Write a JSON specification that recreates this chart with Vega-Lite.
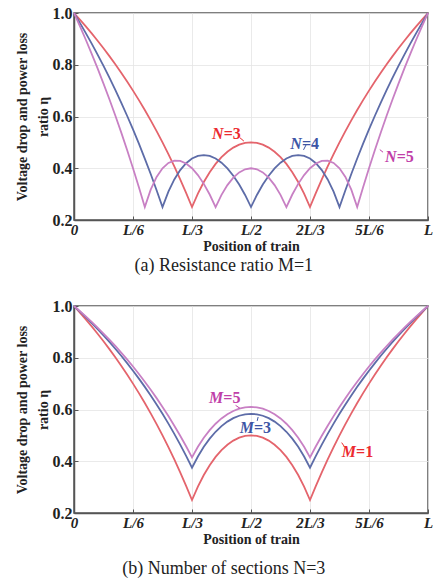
{
  "$schema": "https://vega.github.io/schema/vega-lite/v6.json",
  "background": "white",
  "padding": {"left": 14, "top": 4, "right": 0, "bottom": 0},
  "spacing": 86,
  "bounds": "flush",
  "config": {
    "font": "Liberation Serif",
    "view": {"stroke": "#555555", "strokeWidth": 1.5},
    "axis": {
      "domainColor": "#555555", "domainWidth": 1.5, "tickColor": "#555555", "tickWidth": 1,
      "gridColor": "#e4e4e4", "gridWidth": 0.8,
      "labelFont": "Liberation Serif", "labelFontWeight": "bold", "labelColor": "#222222",
      "titleFont": "Liberation Serif", "titleFontWeight": "bold", "titleColor": "#222222",
      "labelOverlap": false, "labelFlush": false
    },
    "title": {"font": "Liberation Serif", "fontSize": 18, "fontWeight": "normal", "color": "#222222"}
  },
  "datasets": {
    "curves": [
      {"i":0,"n3":1,"n4":1,"n5":1,"m3":1,"m5":1},
      {"i":1,"n3":0.9746,"n4":0.9619,"n5":0.9492,"m3":0.9788,"m5":0.9802},
      {"i":2,"n3":0.9483,"n4":0.9224,"n5":0.8966,"m3":0.9569,"m5":0.9597},
      {"i":3,"n3":0.9211,"n4":0.8816,"n5":0.8421,"m3":0.9342,"m5":0.9384},
      {"i":4,"n3":0.8929,"n4":0.8393,"n5":0.7857,"m3":0.9107,"m5":0.9164},
      {"i":5,"n3":0.8636,"n4":0.7955,"n5":0.7273,"m3":0.8864,"m5":0.8936},
      {"i":6,"n3":0.8333,"n4":0.75,"n5":0.6667,"m3":0.8611,"m5":0.87},
      {"i":7,"n3":0.8019,"n4":0.7028,"n5":0.6038,"m3":0.8349,"m5":0.8455},
      {"i":8,"n3":0.7692,"n4":0.6538,"n5":0.5385,"m3":0.8077,"m5":0.82},
      {"i":9,"n3":0.7353,"n4":0.6029,"n5":0.4706,"m3":0.7794,"m5":0.7935},
      {"i":10,"n3":0.7,"n4":0.55,"n5":0.4,"m3":0.75,"m5":0.766},
      {"i":11,"n3":0.6633,"n4":0.4949,"n5":0.3265,"m3":0.7194,"m5":0.7374},
      {"i":12,"n3":0.625,"n4":0.4375,"n5":0.25,"m3":0.6875,"m5":0.7075},
      {"i":13,"n3":0.5851,"n4":0.3777,"n5":0.3175,"m3":0.6543,"m5":0.6764},
      {"i":14,"n3":0.5435,"n4":0.3152,"n5":0.3665,"m3":0.6196,"m5":0.6439},
      {"i":15,"n3":0.5,"n4":0.25,"n5":0.4,"m3":0.5833,"m5":0.61},
      {"i":16,"n3":0.4545,"n4":0.3097,"n5":0.4205,"m3":0.5455,"m5":0.5745},
      {"i":17,"n3":0.407,"n4":0.3567,"n5":0.4295,"m3":0.5058,"m5":0.5374},
      {"i":18,"n3":0.3571,"n4":0.3929,"n5":0.4286,"m3":0.4643,"m5":0.4986},
      {"i":19,"n3":0.3049,"n4":0.4195,"n5":0.4185,"m3":0.4207,"m5":0.4578},
      {"i":20,"n3":0.25,"n4":0.4375,"n5":0.4,"m3":0.375,"m5":0.415},
      {"i":21,"n3":0.3022,"n4":0.4478,"n5":0.3736,"m3":0.4185,"m5":0.4557},
      {"i":22,"n3":0.3469,"n4":0.451,"n5":0.3397,"m3":0.4557,"m5":0.4906},
      {"i":23,"n3":0.3848,"n4":0.4474,"n5":0.2985,"m3":0.4874,"m5":0.5202},
      {"i":24,"n3":0.4167,"n4":0.4375,"n5":0.25,"m3":0.5139,"m5":0.545},
      {"i":25,"n3":0.4429,"n4":0.4214,"n5":0.2971,"m3":0.5357,"m5":0.5654},
      {"i":26,"n3":0.4638,"n4":0.3993,"n5":0.3348,"m3":0.5532,"m5":0.5818},
      {"i":27,"n3":0.4798,"n4":0.3712,"n5":0.3636,"m3":0.5665,"m5":0.5942},
      {"i":28,"n3":0.4911,"n4":0.3371,"n5":0.3839,"m3":0.5759,"m5":0.603},
      {"i":29,"n3":0.4978,"n4":0.2967,"n5":0.396,"m3":0.5815,"m5":0.6083},
      {"i":30,"n3":0.5,"n4":0.25,"n5":0.4,"m3":0.5833,"m5":0.61},
      {"i":31,"n3":0.4978,"n4":0.2967,"n5":0.396,"m3":0.5815,"m5":0.6083},
      {"i":32,"n3":0.4911,"n4":0.3371,"n5":0.3839,"m3":0.5759,"m5":0.603},
      {"i":33,"n3":0.4798,"n4":0.3712,"n5":0.3636,"m3":0.5665,"m5":0.5942},
      {"i":34,"n3":0.4638,"n4":0.3993,"n5":0.3348,"m3":0.5532,"m5":0.5818},
      {"i":35,"n3":0.4429,"n4":0.4214,"n5":0.2971,"m3":0.5357,"m5":0.5654},
      {"i":36,"n3":0.4167,"n4":0.4375,"n5":0.25,"m3":0.5139,"m5":0.545},
      {"i":37,"n3":0.3848,"n4":0.4474,"n5":0.2985,"m3":0.4874,"m5":0.5202},
      {"i":38,"n3":0.3469,"n4":0.451,"n5":0.3397,"m3":0.4557,"m5":0.4906},
      {"i":39,"n3":0.3022,"n4":0.4478,"n5":0.3736,"m3":0.4185,"m5":0.4557},
      {"i":40,"n3":0.25,"n4":0.4375,"n5":0.4,"m3":0.375,"m5":0.415},
      {"i":41,"n3":0.3049,"n4":0.4195,"n5":0.4185,"m3":0.4207,"m5":0.4578},
      {"i":42,"n3":0.3571,"n4":0.3929,"n5":0.4286,"m3":0.4643,"m5":0.4986},
      {"i":43,"n3":0.407,"n4":0.3567,"n5":0.4295,"m3":0.5058,"m5":0.5374},
      {"i":44,"n3":0.4545,"n4":0.3097,"n5":0.4205,"m3":0.5455,"m5":0.5745},
      {"i":45,"n3":0.5,"n4":0.25,"n5":0.4,"m3":0.5833,"m5":0.61},
      {"i":46,"n3":0.5435,"n4":0.3152,"n5":0.3665,"m3":0.6196,"m5":0.6439},
      {"i":47,"n3":0.5851,"n4":0.3777,"n5":0.3175,"m3":0.6543,"m5":0.6764},
      {"i":48,"n3":0.625,"n4":0.4375,"n5":0.25,"m3":0.6875,"m5":0.7075},
      {"i":49,"n3":0.6633,"n4":0.4949,"n5":0.3265,"m3":0.7194,"m5":0.7374},
      {"i":50,"n3":0.7,"n4":0.55,"n5":0.4,"m3":0.75,"m5":0.766},
      {"i":51,"n3":0.7353,"n4":0.6029,"n5":0.4706,"m3":0.7794,"m5":0.7935},
      {"i":52,"n3":0.7692,"n4":0.6538,"n5":0.5385,"m3":0.8077,"m5":0.82},
      {"i":53,"n3":0.8019,"n4":0.7028,"n5":0.6038,"m3":0.8349,"m5":0.8455},
      {"i":54,"n3":0.8333,"n4":0.75,"n5":0.6667,"m3":0.8611,"m5":0.87},
      {"i":55,"n3":0.8636,"n4":0.7955,"n5":0.7273,"m3":0.8864,"m5":0.8936},
      {"i":56,"n3":0.8929,"n4":0.8393,"n5":0.7857,"m3":0.9107,"m5":0.9164},
      {"i":57,"n3":0.9211,"n4":0.8816,"n5":0.8421,"m3":0.9342,"m5":0.9384},
      {"i":58,"n3":0.9483,"n4":0.9224,"n5":0.8966,"m3":0.9569,"m5":0.9597},
      {"i":59,"n3":0.9746,"n4":0.9619,"n5":0.9492,"m3":0.9788,"m5":0.9802},
      {"i":60,"n3":1,"n4":1,"n5":1,"m3":1,"m5":1}
    ],
    "labelsA": [
      {"s":"N=3","i":25.37,"eta":0.534,"v":"N","r":"=3"},
      {"s":"N=4","i":38.63,"eta":0.494,"v":"N","r":"=4"},
      {"s":"N=5","i":54.69,"eta":0.445,"v":"N","r":"=5"}
    ],
    "leadA": [
      {"s":"N=3","i":28.11,"eta":0.518,"i2":28.79,"eta2":0.505},
      {"s":"N=4","i":39.35,"eta":0.491,"i2":38.9,"eta2":0.471},
      {"s":"N=5","i":51.83,"eta":0.472,"i2":52.38,"eta2":0.462}
    ],
    "labelsB": [
      {"s":"M=5","i":25.3,"eta":0.646,"v":"M","r":"=5"},
      {"s":"M=3","i":30.5,"eta":0.527,"v":"M","r":"=3"},
      {"s":"M=1","i":47.8,"eta":0.436,"v":"M","r":"=1"}
    ],
    "leadB": [
      {"s":"M=5","i":27.39,"eta":0.616,"i2":28.11,"eta2":0.605},
      {"s":"M=3","i":31.21,"eta":0.571,"i2":31.05,"eta2":0.556},
      {"s":"M=1","i":45.37,"eta":0.472,"i2":45.76,"eta2":0.459}
    ]
  },
  "vconcat": [
    {
      "width": 354,
      "height": 207,
      "title": {"text": "(a) Resistance ratio M=1", "orient": "bottom", "frame": "bounds", "anchor": "middle", "offset": 4},
      "resolve": {"scale": {"color": "independent"}},
      "layer": [
        {
          "data": {"name": "curves"},
          "transform": [{"fold": ["n3", "n4", "n5"], "as": ["s", "eta"]}],
          "mark": {"type": "line", "strokeWidth": 1.8},
          "encoding": {
            "x": {"field": "i", "type": "quantitative", "scale": {"domain": [0, 60], "nice": false},
              "axis": {"values": [0, 10, 20, 30, 40, 50, 60],
                "labelExpr": "['0','L/6','L/3','L/2','2L/3','5L/6','L'][round(datum.value/10)]",
                "labelFontSize": 15, "labelFontStyle": "italic", "tickSize": -4, "labelPadding": 6,
                "title": "Position of train", "titleFontSize": 14, "titlePadding": 2}},
            "y": {"field": "eta", "type": "quantitative", "scale": {"domain": [0.2, 1], "nice": false},
              "axis": {"values": [0.2, 0.3, 0.4, 0.5, 0.6, 0.7, 0.8, 0.9, 1.0],
                "labelExpr": "round(datum.value*10)%2==0 ? format(datum.value,'.1f') : ''",
                "labelFontSize": 16, "tickSize": -4, "labelPadding": 6,
                "title": ["Voltage drop and power loss", "ratio η"], "titleFontSize": 14, "titleLineHeight": 21, "titlePadding": 2}},
            "color": {"field": "s", "type": "nominal", "scale": {"domain": ["n3", "n4", "n5"], "range": ["#e4646c", "#5d6ca8", "#c880c4"]}, "legend": null}
          }
        },
        {
          "data": {"name": "leadA"},
          "mark": {"type": "rule", "strokeWidth": 1},
          "encoding": {
            "x": {"field": "i", "type": "quantitative"},
            "y": {"field": "eta", "type": "quantitative"},
            "x2": {"field": "i2"},
            "y2": {"field": "eta2"},
            "color": {"field": "s", "type": "nominal", "scale": {"domain": ["N=3", "N=4", "N=5"], "range": ["#ec2a30", "#3d55a5", "#c040a8"]}, "legend": null}
          }
        },
        {
          "data": {"name": "labelsA"},
          "mark": {"type": "text", "align": "right", "baseline": "middle", "font": "Liberation Serif", "fontSize": 16, "fontWeight": "bold", "fontStyle": "italic"},
          "encoding": {
            "x": {"field": "i", "type": "quantitative"},
            "y": {"field": "eta", "type": "quantitative"},
            "text": {"field": "v"},
            "color": {"field": "s", "type": "nominal", "scale": {"domain": ["N=3", "N=4", "N=5"], "range": ["#ec2a30", "#3d55a5", "#c040a8"]}, "legend": null}
          }
        },
        {
          "data": {"name": "labelsA"},
          "mark": {"type": "text", "align": "left", "baseline": "middle", "font": "Liberation Serif", "fontSize": 16, "fontWeight": "bold"},
          "encoding": {
            "x": {"field": "i", "type": "quantitative"},
            "y": {"field": "eta", "type": "quantitative"},
            "text": {"field": "r"},
            "color": {"field": "s", "type": "nominal", "scale": {"domain": ["N=3", "N=4", "N=5"], "range": ["#ec2a30", "#3d55a5", "#c040a8"]}, "legend": null}
          }
        }
      ]
    },
    {
      "width": 354,
      "height": 207,
      "title": {"text": "(b) Number of sections N=3", "orient": "bottom", "frame": "bounds", "anchor": "middle", "offset": 14},
      "resolve": {"scale": {"color": "independent"}},
      "layer": [
        {
          "data": {"name": "curves"},
          "transform": [{"fold": ["n3", "m3", "m5"], "as": ["s", "eta"]}],
          "mark": {"type": "line", "strokeWidth": 1.8},
          "encoding": {
            "x": {"field": "i", "type": "quantitative", "scale": {"domain": [0, 60], "nice": false},
              "axis": {"values": [0, 10, 20, 30, 40, 50, 60],
                "labelExpr": "['0','L/6','L/3','L/2','2L/3','5L/6','L'][round(datum.value/10)]",
                "labelFontSize": 15, "labelFontStyle": "italic", "tickSize": -4, "labelPadding": 6,
                "title": "Position of train", "titleFontSize": 14, "titlePadding": 2}},
            "y": {"field": "eta", "type": "quantitative", "scale": {"domain": [0.2, 1], "nice": false},
              "axis": {"values": [0.2, 0.3, 0.4, 0.5, 0.6, 0.7, 0.8, 0.9, 1.0],
                "labelExpr": "round(datum.value*10)%2==0 ? format(datum.value,'.1f') : ''",
                "labelFontSize": 16, "tickSize": -4, "labelPadding": 6,
                "title": ["Voltage drop and power loss", "ratio η"], "titleFontSize": 14, "titleLineHeight": 21, "titlePadding": 2}},
            "color": {"field": "s", "type": "nominal", "scale": {"domain": ["n3", "m3", "m5"], "range": ["#e4646c", "#5d6ca8", "#c880c4"]}, "legend": null}
          }
        },
        {
          "data": {"name": "leadB"},
          "mark": {"type": "rule", "strokeWidth": 1},
          "encoding": {
            "x": {"field": "i", "type": "quantitative"},
            "y": {"field": "eta", "type": "quantitative"},
            "x2": {"field": "i2"},
            "y2": {"field": "eta2"},
            "color": {"field": "s", "type": "nominal", "scale": {"domain": ["M=1", "M=3", "M=5"], "range": ["#ec2a30", "#3d55a5", "#c040a8"]}, "legend": null}
          }
        },
        {
          "data": {"name": "labelsB"},
          "mark": {"type": "text", "align": "right", "baseline": "middle", "font": "Liberation Serif", "fontSize": 16, "fontWeight": "bold", "fontStyle": "italic"},
          "encoding": {
            "x": {"field": "i", "type": "quantitative"},
            "y": {"field": "eta", "type": "quantitative"},
            "text": {"field": "v"},
            "color": {"field": "s", "type": "nominal", "scale": {"domain": ["M=1", "M=3", "M=5"], "range": ["#ec2a30", "#3d55a5", "#c040a8"]}, "legend": null}
          }
        },
        {
          "data": {"name": "labelsB"},
          "mark": {"type": "text", "align": "left", "baseline": "middle", "font": "Liberation Serif", "fontSize": 16, "fontWeight": "bold"},
          "encoding": {
            "x": {"field": "i", "type": "quantitative"},
            "y": {"field": "eta", "type": "quantitative"},
            "text": {"field": "r"},
            "color": {"field": "s", "type": "nominal", "scale": {"domain": ["M=1", "M=3", "M=5"], "range": ["#ec2a30", "#3d55a5", "#c040a8"]}, "legend": null}
          }
        }
      ]
    }
  ]
}
